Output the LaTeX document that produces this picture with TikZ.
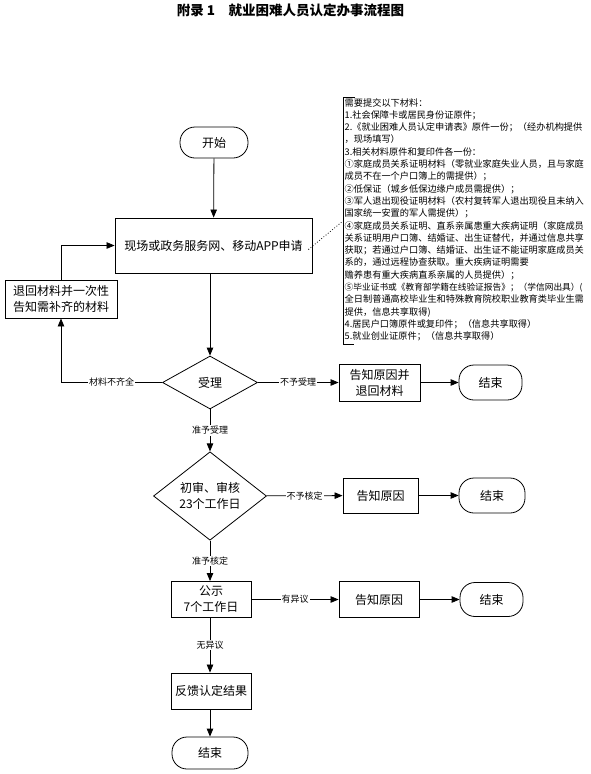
\documentclass[tikz,border=0pt]{standalone}
\usepackage{fontspec}
\setmainfont{Noto Sans CJK SC}
\usetikzlibrary{arrows.meta, positioning, shapes.geometric}

\begin{document}
\begin{tikzpicture}[x=1pt, y=-1pt,
        >={Triangle[length=8pt,width=6.5pt]},
        box/.style={draw, line width=0.9pt, align=center, inner sep=2pt, font=\fontsize{12}{16}\selectfont},
        terminal/.style={draw, line width=0.8pt, rounded corners=15pt, minimum width=64pt, minimum height=34pt, font=\fontsize{12}{14}\selectfont},
        decision/.style={draw, diamond, line width=0.8pt, align=center, inner sep=0pt, font=\fontsize{12}{16}\selectfont},
        flow/.style={line width=0.8pt, ->},
        tag/.style={fill=white, inner sep=1pt, font=\fontsize{9}{9}\selectfont}]
        \useasboundingbox (0,0) rectangle (590,774);
        \node (title) at (290.5,10) {\fontsize{13.5}{14}\selectfont\bfseries 附录 1　就业困难人员认定办事流程图};
        % main column
        \node[terminal, minimum width=68pt, minimum height=31pt] (start) at (214,142.5) {开始};
        \node[box, minimum width=197pt, minimum height=55pt] (apply) at (213.5,245.5) {现场或政务服务网、移动APP申请};
        \node[box, minimum width=112pt, minimum height=38pt] (back) at (61,299) {退回材料并一次性\\告知需补齐的材料};
        \node[decision, minimum width=95pt, minimum height=53pt] (accept) at (210,382.5) {受理};
        \node[decision, minimum width=113pt, minimum height=67pt] (review) at (210,496) {初审、审核\\23个工作日};
        \node[box, minimum width=80pt, minimum height=36pt] (notice) at (211,599.5) {公示\\7个工作日};
        \node[box, minimum width=80pt, minimum height=36pt] (result) at (211,691) {反馈认定结果};
        \node[terminal, minimum width=76pt, minimum height=32pt] (end4) at (210,753) {结束};
        % right branches
        \node[box, minimum width=81pt, minimum height=37pt] (refuse) at (379.5,382.5) {告知原因并\\退回材料};
        \node[terminal, minimum width=63pt, minimum height=35pt] (end1) at (490.5,382.5) {结束};
        \node[box, minimum width=75pt, minimum height=35pt] (reason1) at (380.5,495.5) {告知原因};
        \node[terminal, minimum width=66pt, minimum height=35pt] (end2) at (492,495.5) {结束};
        \node[box, minimum width=80pt, minimum height=36pt] (reason2) at (379,599.5) {告知原因};
        \node[terminal, minimum width=63pt, minimum height=34pt] (end3) at (491.5,599.5) {结束};
        % list of documents
        \node[anchor=north west, align=left, inner sep=1pt, font=\fontsize{9.2}{12.3}\selectfont] (docs) at (343.5,97) {需要提交以下材料：\\
          1.社会保障卡或居民身份证原件；\\
          2.《就业困难人员认定申请表》原件一份；（经办机构提供\\
          ，现场填写）\\
          3.相关材料原件和复印件各一份：\\
          ①家庭成员关系证明材料（零就业家庭失业人员，且与家庭\\
          成员不在一个户口簿上的需提供）；\\
          ②低保证（城乡低保边缘户成员需提供）；\\
          ③军人退出现役证明材料（农村复转军人退出现役且未纳入\\
          国家统一安置的军人需提供）；\\
          ④家庭成员关系证明、直系亲属患重大疾病证明（家庭成员\\
          关系证明用户口簿、结婚证、出生证替代，并通过信息共享\\
          获取；若通过户口簿、结婚证、出生证不能证明家庭成员关\\
          系的，通过远程协查获取。重大疾病证明需要\\
          赡养患有重大疾病直系亲属的人员提供）；\\
          {\fontsize{8.7}{12.3}\selectfont ⑤毕业证书或《教育部学籍在线验证报告》；（学信网出具）(}\\
          全日制普通高校毕业生和特殊教育院校职业教育类毕业生需\\
          提供，信息共享取得)\\
          4.居民户口簿原件或复印件；（信息共享取得）\\
          5.就业创业证原件；（信息共享取得）};
        \draw[line width=0.8pt] (355,97) -- (343,97) -- (343,344) -- (354,344);
        \coordinate (docslink) at (343,221);
        \draw[dotted, line width=0.8pt] ([shift={(-4,4)}]apply.east) -- (docslink);
        % connectors
        \draw[flow] (start) -- (apply);
        \draw[flow] (apply.south -| accept) -- (accept);
        \draw[flow] (accept.west) -- node[tag] {材料不齐全} (accept.west -| back) -- (back);
        \draw[flow] (back) |- (apply);
        \draw[flow] (accept) -- node[tag] {不予受理} (refuse);
        \draw[flow] (refuse) -- (end1);
        \draw[flow] (accept) -- node[tag] {准予受理} (review);
        \draw[flow] (review) -- node[tag] {不予核定} (reason1);
        \draw[flow] (reason1) -- (end2);
        \draw[flow] (review) -- node[tag] {准予核定} (review |- notice.north);
        \draw[flow] (notice) -- node[tag] {有异议} (reason2);
        \draw[flow] (reason2) -- (end3);
        \draw[flow] (notice.south -| review) -- node[tag] {无异议} (result.north -| review);
        \draw[flow] (result.south -| end4) -- (end4);
\end{tikzpicture}
\end{document}
